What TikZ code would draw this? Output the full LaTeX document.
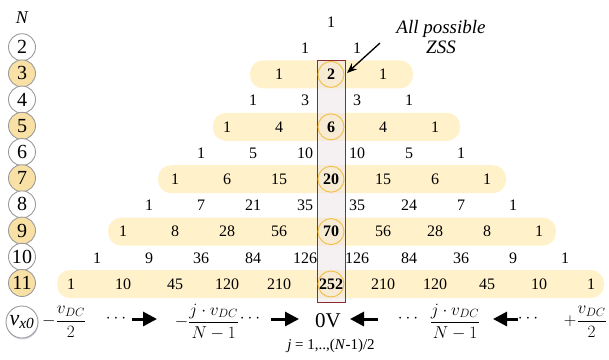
\documentclass[tikz,border=0pt]{standalone}
\usepackage{fontspec}
\setmainfont{Liberation Serif}
\usetikzlibrary{arrows.meta,shadows}
\definecolor{bandfill}{HTML}{FFF1CA}
\definecolor{oddfill}{HTML}{F9E1A5}
\definecolor{labline}{HTML}{9B9B9B}
\definecolor{zssfill}{HTML}{EEE8EA}
\definecolor{zssline}{HTML}{8C2B2B}
\definecolor{ringcol}{HTML}{F3C14F}

\begin{document}
\begin{tikzpicture}[
  x=1pt, y=-1pt,
  num/.style={font=\fontsize{16}{18}\selectfont, inner sep=1pt},
  labcirc/.style={circle, draw=labline, line width=0.9pt, fill=#1,
    minimum size=27pt, inner sep=0pt, font=\fontsize{20}{22}\selectfont},
  band/.style={fill=bandfill, rounded corners=13pt},
  zsscol/.style={draw=zssline, line width=1pt, fill=zssfill, fill opacity=0.6},
  zssring/.style={circle, draw=ringcol, line width=1pt, fill=ringcol!30,
    fill opacity=0.5, minimum size=26pt, inner sep=0pt},
  mathlab/.style={font=\fontsize{18}{20}\selectfont, inner sep=0pt},
  bigarr/.style={-{Triangle[length=14pt,width=14pt]}, line width=3pt},
  ptr/.style={-{Stealth[length=10pt,width=8pt]}, line width=1.3pt}
]
  \useasboundingbox (0,0) rectangle (609,359);

  \foreach \r/\xl/\xr in {3/250/413, 5/213/460, 7/158/506, 9/108/556, 11/57/604}
    \fill[band] (\xl,{22+26.2*(\r-1)-14}) rectangle (\xr,{22+26.2*(\r-1)+14});

  \filldraw[zsscol] (317,60) rectangle (345,302);
  \foreach \r in {3,5,7,9,11}
    \node[zssring] (ring\r) at (331,{22+26.2*(\r-1)}) {};

  \foreach \row/\vals in {0/{1}, 1/{1,1}, 2/{1,2,1}, 3/{1,3,3,1}, 4/{1,4,6,4,1},
      5/{1,5,10,10,5,1}, 6/{1,6,15,20,15,6,1}, 7/{1,7,21,35,35,24,7,1},
      8/{1,8,28,56,70,56,28,8,1}, 9/{1,9,36,84,126,126,84,36,9,1},
      10/{1,10,45,120,210,252,210,120,45,10,1}}
    \foreach \v [count=\k from 0] in \vals {
      \def\wt{}
      \ifnum\row>0 \ifodd\row\else\ifnum\k=\numexpr\row/2\relax\def\wt{\bfseries}\fi\fi\fi
      \node[num] (t\row-\k) at ({331+52*(\k-\row/2)},{22+26.2*\row}) {\wt\v};
    }

  \node[font=\fontsize{18}{20}\selectfont\itshape] (Nhead) at (22,18) {N};
  \foreach \N in {2,...,11} {
    \ifodd\N\def\lc{oddfill}\else\def\lc{white}\fi
    \node[labcirc=\lc] (lab\N) at (22,{22+26.2*(\N-1)-1}) {\N};
  }

  \node[font=\fontsize{19}{20}\selectfont\itshape, align=center] (note) at (441,37)
    {All possible\\ZSS};
  \coordinate (ptail) at (380,43);
  \coordinate (ptip) at (347,73);
  \draw[ptr] (ptail) -- (ptip);

  \node[labcirc=white, minimum size=32pt, font=\fontsize{22}{24}\selectfont,
    drop shadow={shadow xshift=0.5pt, shadow yshift=-1.5pt, opacity=0.25, fill=blue!30!gray}]
    (vx) at (22,322) {\itshape v\textsubscript{x0}};
  \node[mathlab, anchor=west] (vmin) at (42,322) {$\displaystyle-\frac{v_{DC}}{2}$};
  \node[mathlab] (dots1) at (116,319) {$\cdots$};
  \node[mathlab] (jmin) at (207,322) {$\displaystyle-\frac{j\cdot v_{DC}}{N-1}$};
  \node[mathlab] (dots2) at (250,319) {$\cdots$};
  \node[font=\fontsize{21}{23}\selectfont] (zero) at (328,321) {0V};
  \node[mathlab] (dots3) at (408,319) {$\cdots$};
  \node[mathlab] (jplus) at (455,322) {$\displaystyle\frac{j\cdot v_{DC}}{N-1}$};
  \node[mathlab] (dots4) at (528,319) {$\cdots$};
  \node[mathlab, anchor=east] (vplus) at (607,322) {$\displaystyle+\frac{v_{DC}}{2}$};
  \node[font=\fontsize{15}{17}\selectfont] (jrange) at (331,346)
    {\textit{j} = 1,..,(\textit{N}-1)/2};

  \coordinate (a1s) at (132,319); \coordinate (a1e) at (157,319);
  \coordinate (a2s) at (271,319); \coordinate (a2e) at (299,319);
  \coordinate (a3s) at (378,319); \coordinate (a3e) at (350,319);
  \coordinate (a4s) at (518,319); \coordinate (a4e) at (493,319);
  \draw[bigarr] (a1s) -- (a1e);
  \draw[bigarr] (a2s) -- (a2e);
  \draw[bigarr] (a3s) -- (a3e);
  \draw[bigarr] (a4s) -- (a4e);
\end{tikzpicture}
\end{document}
